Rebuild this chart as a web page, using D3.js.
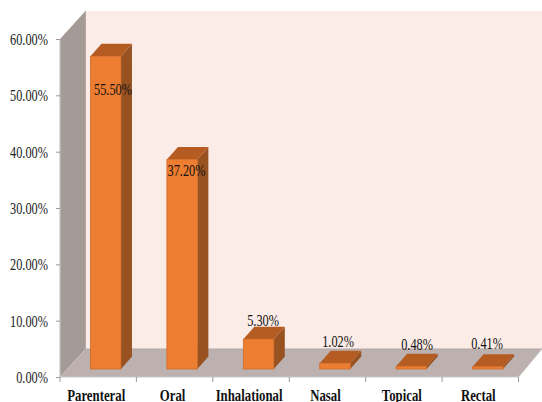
<!DOCTYPE html>
<html><head><meta charset="utf-8">
<script src="https://cdn.jsdelivr.net/npm/d3@7/dist/d3.min.js"></script>
<style>html,body{margin:0;padding:0;background:#fff;overflow:hidden}svg{display:block}
text{font-family:"Liberation Serif",serif}</style></head>
<body><svg id="c" width="542" height="402"></svg>
<script>
const categories = ["Parenteral","Oral","Inhalational","Nasal","Topical","Rectal"];
const values = [55.50,37.20,5.30,1.02,0.48,0.41];
const valueLabels = ["55.50%","37.20%","5.30%","1.02%","0.48%","0.41%"];
const yTicks = [0,10,20,30,40,50,60];
const labelNudgeX = [7.3,4.4,4.5,3.1,5.7,-0.7];
const labelNudgeY = [46,24,-6,-9,-9,-11];

const W=60,R=518.5,B=377,T=39;
const wallDx=25.5,wallDy=28, barDx=7.5,barDy=8, depthX=11,depthY=12.5, barW=30.5;
const svg=d3.select("#c");
const x=d3.scaleBand().domain(categories).range([W,R]);
const y=d3.scaleLinear().domain([0,60]).range([B,T]);
const line=d3.line();
const poly=(p,f)=>svg.append("path").attr("d",line(p)+"Z").attr("fill",f);

// walls and floor
svg.append("rect").attr("x",W+wallDx).attr("y",y(60)-wallDy).attr("width",542-W-wallDx).attr("height",B-T).attr("fill","#fcece7");
poly([[W,y(60)],[W+wallDx,y(60)-wallDy],[W+wallDx,B-wallDy],[W,B]],"#a59b96");
poly([[W,B],[W+wallDx,B-wallDy],[542,B-wallDy],[R,B]],"#bcb1ae");
svg.append("path").attr("d",line([[W+wallDx,y(60)-wallDy],[W+wallDx,B-wallDy],[542,B-wallDy]])).attr("fill","none").attr("stroke","#b3aaa6");
svg.append("path").attr("d",line([[W,B],[R,B],[542,B-wallDy]])).attr("fill","none").attr("stroke","#c9c9c9");
svg.append("path").attr("d",line([[W,y(60)],[W,B]])).attr("fill","none").attr("stroke","#c4c4c4").attr("stroke-width",1.2);

// axes
const yAxis=svg.append("g").attr("transform",`translate(${W},0)`).call(d3.axisLeft(y).tickValues(yTicks).tickFormat(d=>d3.format(".2f")(d)+"%").tickSize(4).tickPadding(0));
yAxis.select(".domain").remove();
yAxis.selectAll("line").attr("stroke","#9a9a9a");
yAxis.selectAll("text").attr("font-size",16).attr("fill","#222").attr("text-anchor","end").attr("dy",null)
  .attr("x",0).attr("y",0).attr("transform","translate(-12,5.5) scale(0.77,1)");
const xAxis=svg.append("g").attr("transform",`translate(0,${B})`).call(d3.axisBottom(x).tickSize(0).tickFormat(d=>d));
xAxis.select(".domain").remove();
xAxis.selectAll("text").attr("font-size",16).attr("font-weight","bold").attr("fill","#111").attr("text-anchor","middle").attr("dy",null)
  .attr("x",0).attr("y",0).attr("transform","translate(-2,24) scale(0.8,1)");
svg.append("g").selectAll("line").data(d3.range(categories.length+1)).join("line")
  .attr("x1",i=>W+i*x.bandwidth()).attr("x2",i=>W+i*x.bandwidth()).attr("y1",B).attr("y2",B+5).attr("stroke","#9a9a9a");

// bars
categories.forEach((c,i)=>{
  const x0=x(c)+(x.bandwidth()-barW)/2+barDx, x1=x0+barW;
  const yb=B-barDy, yt=yb-(B-y(values[i]));
  poly([[x1,yb],[x1+depthX,yb-depthY],[x1+depthX,yt-depthY],[x1,yt]],"#985120");
  poly([[x0,yt],[x0+depthX,yt-depthY],[x1+depthX,yt-depthY],[x1,yt]],"#b55c22");
  svg.append("rect").attr("x",x0).attr("y",yt).attr("width",barW).attr("height",yb-yt).attr("fill","#ed7d31").attr("stroke","#d26c28").attr("stroke-width",0.8);
  svg.append("text").text(valueLabels[i]).attr("font-size",16).attr("fill","#111").attr("text-anchor","middle")
    .attr("transform",`translate(${x0+barW/2+labelNudgeX[i]},${yt-depthY+labelNudgeY[i]+5.5}) scale(0.77,1)`);
});
</script></body></html>
